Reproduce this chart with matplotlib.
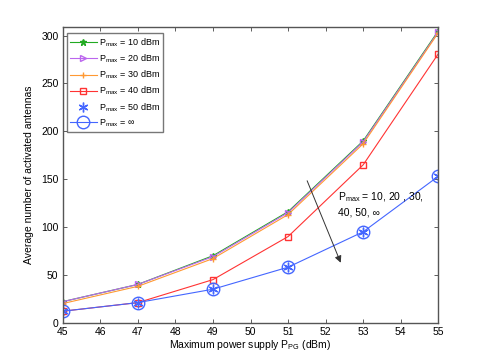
import matplotlib
matplotlib.use("Agg")
import matplotlib.pyplot as plt
from matplotlib.lines import Line2D

x = [45, 47, 49, 51, 53, 55]
p10 = [22, 40, 70, 116, 190, 305]
p20 = [22, 40, 69, 115, 189, 304]
p30 = [20, 38, 67, 113, 187, 303]
p40 = [12, 21, 45, 90, 165, 281]
p50 = [12, 21, 35, 58, 95, 153]
pinf = [12, 21, 35, 58, 95, 153]

labels = ["P$_{\\rm max}$ = 10 dBm", "P$_{\\rm max}$ = 20 dBm", "P$_{\\rm max}$ = 30 dBm",
          "P$_{\\rm max}$ = 40 dBm", "P$_{\\rm max}$ = 50 dBm", "P$_{\\rm max}$ = \u221e"]

plt.rcParams['font.family'] = ['Liberation Sans', 'DejaVu Sans']
plt.rcParams['mathtext.fontset'] = 'custom'
plt.rcParams['mathtext.rm'] = 'Liberation Sans'
plt.rcParams['mathtext.it'] = 'Liberation Sans:italic'
plt.rcParams['mathtext.bf'] = 'Liberation Sans:bold'
fig = plt.figure(figsize=(4.85, 3.63), dpi=100)
ax = fig.add_axes([0.1293, 0.111, 0.7744, 0.8146])

lw = 0.8
ax.plot(x, p10, color='#22aa22', marker='*', ms=5, lw=lw, label=labels[0])
ax.plot(x, p20, color='#bb66ee', marker='>', ms=4, mfc='none', lw=lw, label=labels[1])
ax.plot(x, p30, color='#ff9933', marker='+', ms=5, lw=lw, label=labels[2])
ax.plot(x, p40, color='#ff3333', marker='s', ms=4, mfc='none', lw=lw, label=labels[3])
ax.plot(x, p50, color='#4466ff', marker=(6, 2, 0), ms=7, ls='none', lw=0.6)
ax.plot(x, pinf, color='#4466ff', marker='o', ms=9, mfc='none', lw=lw, label=labels[5])

ax.set_xlim(45, 55)
ax.set_ylim(0, 309)
ax.set_xticks(range(45, 56))
ax.set_yticks(range(0, 301, 50))
ax.tick_params(direction='in', labelsize=7.5, top=True, right=True, length=3, width=0.6, color='#444444')
ax.tick_params(axis='x', pad=3)
ax.tick_params(axis='y', pad=3)
for s in ax.spines.values():
    s.set_color('#555555')
    s.set_linewidth(1.0)

ax.set_xlabel("Maximum power supply P$_{\\rm PG}$ (dBm)", fontsize=7.5, labelpad=1)
ax.set_ylabel("Average number of activated antennas", fontsize=7.5, labelpad=5)

ax.annotate("", xy=(52.43, 60), xytext=(51.48, 151),
            arrowprops=dict(arrowstyle='-|>', color='#333333', lw=0.7, mutation_scale=10))
ax.text(52.33, 138, "P$_{\\rm max}$ = 10, 20 , 30,\n40, 50, \u221e", fontsize=7.5, va='top', ha='left',
        linespacing=1.4)

h = [Line2D([], [], color='#22aa22', marker='*', ms=5, lw=lw),
     Line2D([], [], color='#bb66ee', marker='>', ms=4, mfc='none', lw=lw),
     Line2D([], [], color='#ff9933', marker='+', ms=5, lw=lw),
     Line2D([], [], color='#ff3333', marker='s', ms=4, mfc='none', lw=lw),
     Line2D([], [], color='#4466ff', marker=(6, 2, 0), ls='none', ms=7),
     Line2D([], [], color='#4466ff', marker='o', ms=9, mfc='none', lw=lw)]
leg = ax.legend(h, labels, loc='upper left', fontsize=6.5, frameon=True, fancybox=False,
                edgecolor='#555555', borderpad=0.35, labelspacing=0.42, handlelength=2.9,
                handletextpad=0.25, borderaxespad=0.0, bbox_to_anchor=(0.012, 0.98))
leg.get_frame().set_linewidth(1.0)

fig.savefig("out.png", dpi=100)
